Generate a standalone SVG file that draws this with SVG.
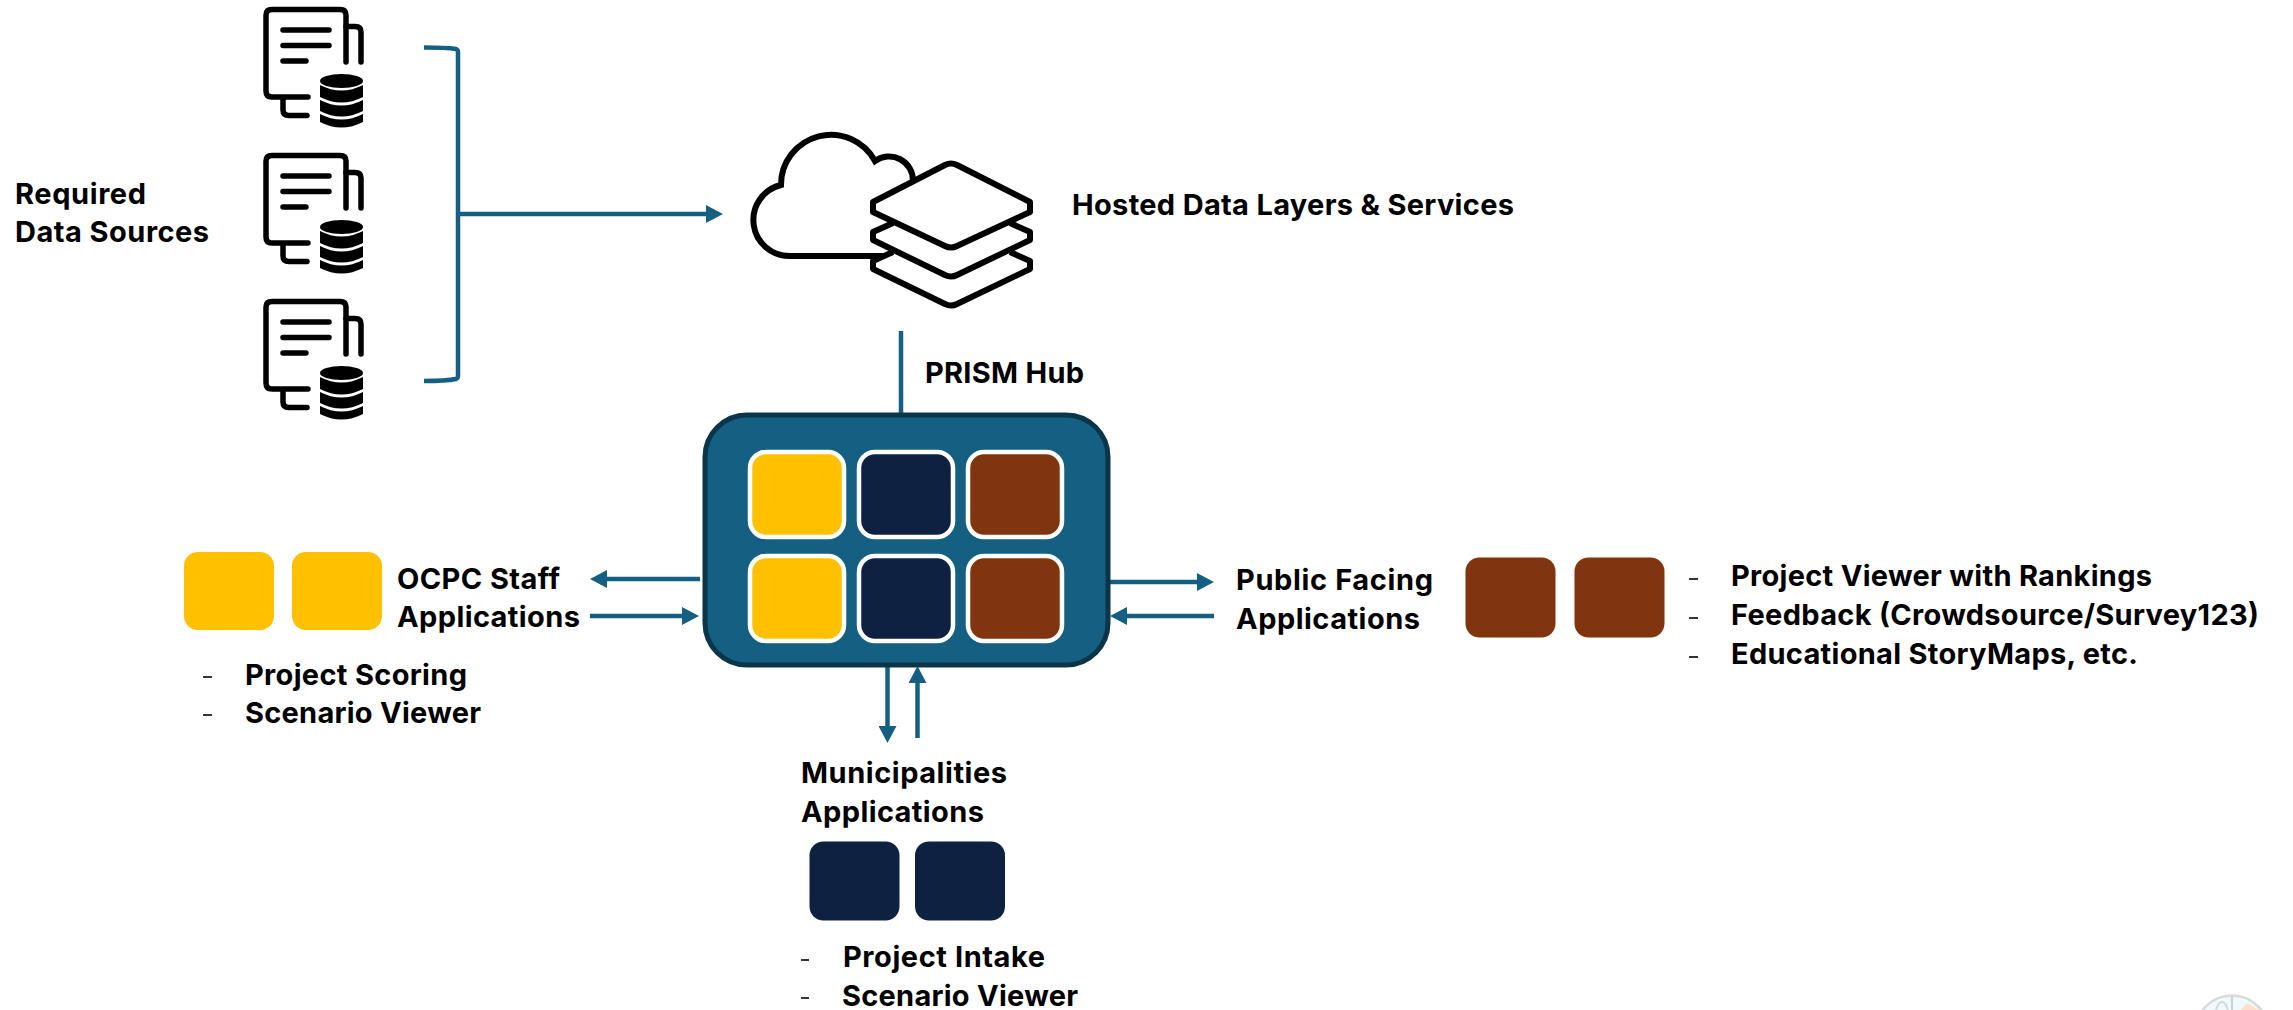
<svg xmlns="http://www.w3.org/2000/svg" xmlns:xlink="http://www.w3.org/1999/xlink" width="2293" height="1010" viewBox="0 0 2293 1010">
<style>
text{font-family:"Inter","Liberation Sans",sans-serif;font-weight:700;font-size:29px;fill:#000}
.c{fill:none;stroke:#156082;stroke-width:4.5}
.ic{fill:none;stroke:#000;stroke-width:5.500;stroke-linecap:round;stroke-linejoin:round}
.ln{fill:#fff;stroke:#000;stroke-width:6;stroke-linejoin:round}
.y{fill:#FFC000}.n{fill:#0E2141}.b{fill:#80350E}
.t{stroke:#fff;stroke-width:4.5}
.d{stroke:#000;stroke-width:1.6}
</style>
<defs>
<marker id="ah" markerUnits="userSpaceOnUse" markerWidth="18" markerHeight="18" refX="2" refY="9" orient="auto"><path d="M0 0L17 9L0 18Z" fill="#156082"/></marker>
<g id="doc">
<path class="ic" d="M308 97H272Q266 97 266 91V15Q266 9.500 272 9.500H340Q346 9.500 346 15V62" stroke-linecap="butt"/>
<path class="ic" d="M346 26.500H355Q361 26.500 361 32V62M283 98V110Q283 115.500 289 115.500H307"/>
<path class="ic" d="M283 30H329M283 45.500H329M283 61H306"/>
<ellipse cx="341.500" cy="81" rx="21.500" ry="7"/>
<path d="M320 85Q341.500 96 363 85V97Q341.500 108 320 97ZM320 100Q341.500 111 363 100V111Q341.500 122 320 111ZM320 114Q341.500 125 363 114V122Q341.500 133 320 122Z"/>
</g>
</defs>
<g id="connectors">
<path class="c" d="M424 47.500Q446 47.500 456 49Q458 50 458 52V376Q458 378 456 379Q446 381 424 381"/>
<line class="c" x1="458" y1="214" x2="708" y2="214" marker-end="url(#ah)"/>
<line class="c" x1="901" y1="331" x2="901" y2="414"/>
<line class="c" x1="700" y1="579" x2="605" y2="579" marker-end="url(#ah)"/>
<line class="c" x1="590" y1="616" x2="684" y2="616" marker-end="url(#ah)"/>
<line class="c" x1="1108" y1="582" x2="1199" y2="582" marker-end="url(#ah)"/>
<line class="c" x1="1214" y1="616" x2="1125" y2="616" marker-end="url(#ah)"/>
<line class="c" x1="887.500" y1="666" x2="887.500" y2="728" marker-end="url(#ah)"/>
<line class="c" x1="917.500" y1="738" x2="917.500" y2="681" marker-end="url(#ah)"/>
</g>
<g id="sources-label">
<text x="15" y="204" textLength="131" lengthAdjust="spacing">Required</text>
<text x="15" y="242" textLength="194" lengthAdjust="spacing">Data Sources</text>
</g>
<g id="source-1"><use xlink:href="#doc" href="#doc"/></g>
<g id="source-2"><use xlink:href="#doc" href="#doc" y="146"/></g>
<g id="source-3"><use xlink:href="#doc" href="#doc" y="292"/></g>
<g id="hosted">
<path fill="none" stroke="#000" stroke-width="6" d="M883 256H790A36 36 0 0 1 781 185A50 50 0 0 1 875 161A24 24 0 0 1 913 181"/>
<path class="ln" d="M893 252L873 261V269L945 304Q951 307 957 304L1030 269V261L1010 252"/>
<path class="ln" d="M893 223L873 232V240L945 275Q951 278 957 275L1030 240V232L1010 223"/>
<path class="ln" d="M873 202L945 165Q951 162 957 165L1030 202V212L957 246Q951 249 945 246L873 212Z"/>
<text x="1072" y="215" textLength="442" lengthAdjust="spacing">Hosted Data Layers &amp; Services</text>
</g>
<g id="hub-label"><text x="925" y="383" textLength="159" lengthAdjust="spacing">PRISM Hub</text></g>
<g id="prism-hub">
<rect x="705" y="415" width="403" height="250" rx="42" fill="#156082" stroke="#0B3549" stroke-width="5"/>
<rect class="y t" x="750" y="452" width="94" height="85" rx="16"/>
<rect class="n t" x="859" y="452" width="94" height="85" rx="16"/>
<rect class="b t" x="968" y="452" width="94" height="85" rx="16"/>
<rect class="y t" x="750" y="556" width="94" height="85" rx="16"/>
<rect class="n t" x="859" y="556" width="94" height="85" rx="16"/>
<rect class="b t" x="968" y="556" width="94" height="85" rx="16"/>
</g>
<g id="ocpc-staff">
<rect class="y" x="184" y="552" width="90" height="78" rx="14"/>
<rect class="y" x="292" y="552" width="90" height="78" rx="14"/>
<text x="397" y="589" textLength="163" lengthAdjust="spacing">OCPC Staff</text>
<text x="397" y="627" textLength="183" lengthAdjust="spacing">Applications</text>
<line class="d" x1="203" y1="677" x2="212" y2="677"/>
<text x="245" y="685" textLength="222" lengthAdjust="spacing">Project Scoring</text>
<line class="d" x1="203" y1="715" x2="212" y2="715"/>
<text x="245" y="723" textLength="236" lengthAdjust="spacing">Scenario Viewer</text>
</g>
<g id="municipalities">
<text x="801" y="783" textLength="206" lengthAdjust="spacing">Municipalities</text>
<text x="801" y="822" textLength="183" lengthAdjust="spacing">Applications</text>
<rect class="n" x="809.500" y="841.500" width="90" height="79" rx="14"/>
<rect class="n" x="915" y="841.500" width="90" height="79" rx="14"/>
<line class="d" x1="801" y1="960" x2="809" y2="960"/>
<text x="843" y="967" textLength="202" lengthAdjust="spacing">Project Intake</text>
<line class="d" x1="801" y1="998" x2="809" y2="998"/>
<text x="842" y="1006" textLength="236" lengthAdjust="spacing">Scenario Viewer</text>
</g>
<g id="public-facing">
<text x="1236" y="590" textLength="197" lengthAdjust="spacing">Public Facing</text>
<text x="1236" y="629" textLength="184" lengthAdjust="spacing">Applications</text>
<rect class="b" x="1465.500" y="557.500" width="90" height="80" rx="14"/>
<rect class="b" x="1574.500" y="557.500" width="90" height="80" rx="14"/>
<line class="d" x1="1689" y1="579" x2="1698" y2="579"/>
<text x="1731" y="586" textLength="421" lengthAdjust="spacing">Project Viewer with Rankings</text>
<line class="d" x1="1689" y1="618" x2="1698" y2="618"/>
<text x="1731" y="625" textLength="528" lengthAdjust="spacing">Feedback (Crowdsource/Survey123)</text>
<line class="d" x1="1689" y1="657" x2="1698" y2="657"/>
<text x="1731" y="664" textLength="407" lengthAdjust="spacing">Educational StoryMaps, etc.</text>
</g>
<g id="logo">
<circle cx="2232" cy="1032" r="36.500" fill="#F0FAFD" stroke="#D9D9D9" stroke-width="2.500"/>
<path d="M2239 1012L2247 1003L2263 1012Z" fill="#FCE0CC"/>
<path d="M2232 996V1012" stroke="#D0D0D0" stroke-width="2"/>
<ellipse cx="2222" cy="1014" rx="6" ry="12" fill="none" stroke="#D5DDD8" stroke-width="2"/>
</g>
</svg>
